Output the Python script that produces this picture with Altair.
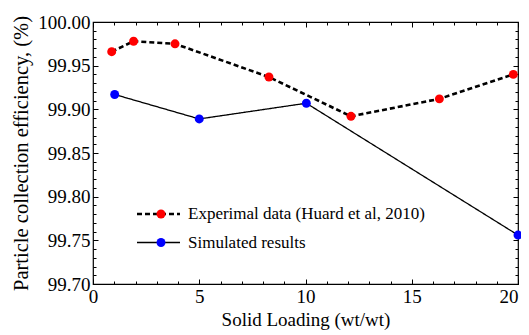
import altair as alt
import pandas as pd

# ---- data ----
exp_x = [0.88, 1.91, 3.86, 8.28, 12.14, 16.3, 19.78]
exp_y = [99.966, 99.978, 99.975, 99.937, 99.892, 99.912, 99.940]
sim_x = [1.02, 5.0, 10.04, 20.0]
sim_y = [99.917, 99.889, 99.907, 99.756]
series = ["Experimal data (Huard et al, 2010)", "\u00a0Simulated results"]

x_major = [0, 5, 10, 15, 20]
x_minor = list(range(0, 21))
y_major = [99.70, 99.75, 99.80, 99.85, 99.90, 99.95, 100.00]
y_minor = [round(99.70 + 0.01 * i, 2) for i in range(31)]

rows = []
for xv, yv in zip(exp_x, exp_y):
    rows.append({"x": xv, "y": yv, "ln": series[0], "pt": series[0]})
for xv, yv in zip(sim_x, sim_y):
    rows.append({"x": xv, "y": yv, "ln": series[1], "pt": series[1]})
df = pd.DataFrame(rows)

FONT = "Liberation Serif"
xs = alt.Scale(domain=[0, 20], nice=False, zero=False)
ys = alt.Scale(domain=[99.70, 100.00], nice=False, zero=False)

line_legend = alt.Legend(
    title=None, orient="none", legendX=57, legendY=183.5,
    symbolType="M-4.3,0H4.3", symbolSize=100, symbolStrokeColor="black",
    labelFont=FONT, labelFontSize=17, labelColor="black", labelOffset=21,
    rowPadding=10.5, labelLimit=400,
)

lines = alt.Chart(df).mark_line(color="black").encode(
    x=alt.X("x:Q", scale=xs, axis=alt.Axis(
        orient="bottom", title="Solid Loading (wt/wt)", values=x_major,
        ticks=False, tickSize=0, domain=False, grid=False, labelPadding=3,
        titlePadding=4, titleFontSize=19, labelFlush=False,
        labelAlign={"expr": "datum.value == 20 ? 'right' : 'center'"})),
    y=alt.Y("y:Q", scale=ys, axis=alt.Axis(
        orient="left", title="Particle collection efficiency, (%)",
        values=y_major, format=".2f", ticks=False, tickSize=0, domain=False,
        grid=False, labelPadding=3, titlePadding=6, titleFontSize=20.5,
        labelFlush=False)),
    strokeDash=alt.StrokeDash("ln:N", scale=alt.Scale(domain=series, range=[[5, 3], [1, 0]]),
                              legend=line_legend),
    strokeWidth=alt.StrokeWidth("ln:N", scale=alt.Scale(domain=series, range=[2.6, 1.3]),
                                legend=line_legend),
)

points = alt.Chart(df).mark_circle(size=80, opacity=1).encode(
    x=alt.X("x:Q", scale=xs, axis=None),
    y=alt.Y("y:Q", scale=ys, axis=None),
    color=alt.Color("pt:N", scale=alt.Scale(domain=series, range=["#ff0000", "#0000ff"]),
                    legend=alt.Legend(
                        title=None, orient="none", legendX=59.5, legendY=183.5,
                        symbolType="circle", symbolSize=80, symbolStrokeWidth=0,
                        labelFont=FONT, labelFontSize=17, labelOpacity=0,
                        labelExpr="' '", rowPadding=10.5, labelLimit=400)),
)


def tick_layer(xvals, yvals, xorient, yorient, size):
    return alt.Chart(df).mark_circle(opacity=0).encode(
        x=alt.X("x:Q", scale=xs, axis=alt.Axis(
            orient=xorient, values=xvals, tickSize=size, offset=-size,
            labels=False, domain=False, grid=False, title=None,
            tickColor="black", tickWidth=1)),
        y=alt.Y("y:Q", scale=ys, axis=alt.Axis(
            orient=yorient, values=yvals, tickSize=size, offset=-size,
            labels=False, domain=False, grid=False, title=None,
            tickColor="black", tickWidth=1)),
    )


chart = alt.layer(
    tick_layer(x_minor, y_minor, "bottom", "left", 3),
    tick_layer(x_major, y_major, "bottom", "left", 5),
    tick_layer(x_minor, y_minor, "top", "right", 3),
    tick_layer(x_major, y_major, "top", "right", 5),
    lines,
    points,
).resolve_axis(
    x="independent", y="independent"
).resolve_legend(
    color="independent", strokeDash="independent", strokeWidth="independent"
).properties(
    width=425, height=262,
    autosize=alt.AutoSizeParams(type="none"),
    padding={"left": 85, "top": 14, "right": 3, "bottom": 50},
).configure_view(
    stroke="black", strokeWidth=1.2
).configure_axis(
    labelFont=FONT, labelFontSize=19, labelColor="black",
    titleFont=FONT, titleFontWeight="normal", titleColor="black",
)

chart.save("out.html", embed_options={"renderer": "svg", "actions": False})
